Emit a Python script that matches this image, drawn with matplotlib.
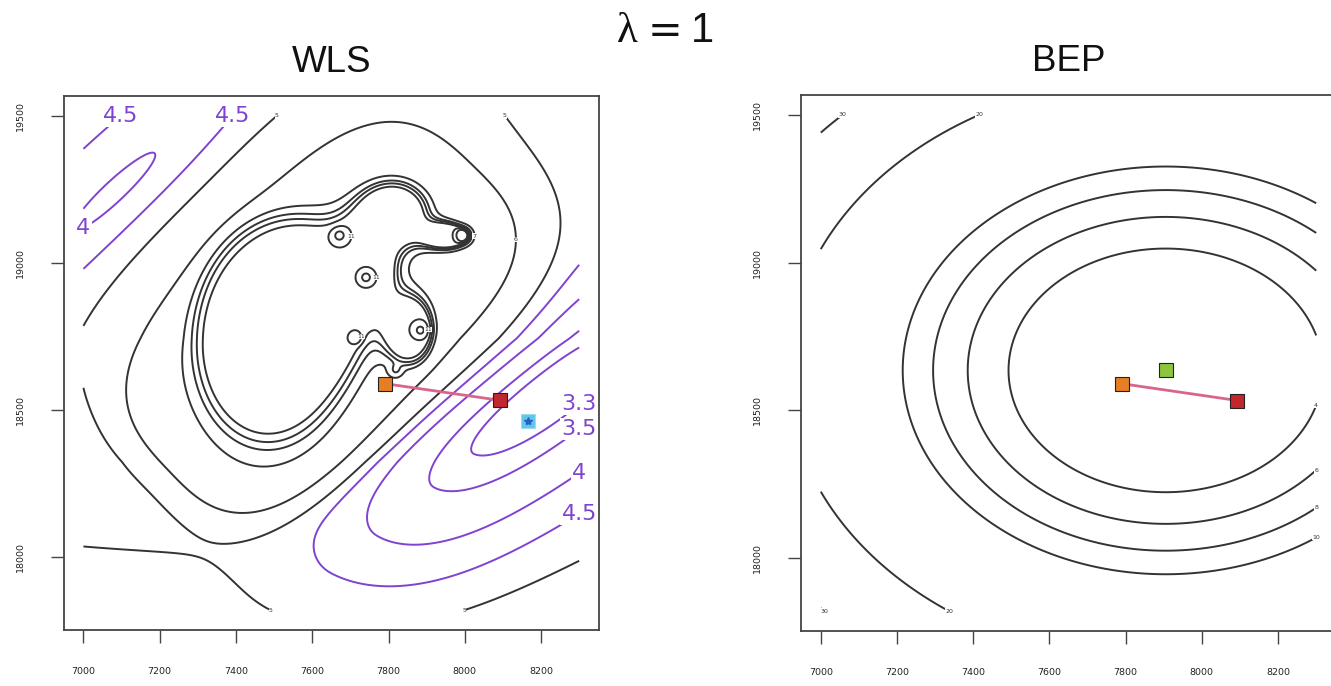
import numpy as np
import matplotlib
matplotlib.use("Agg")
import matplotlib.pyplot as plt

# ---------------- parameter grid and axes ----------------
x_lo, x_hi = 7000, 8300
y_lo, y_hi = 17820, 19500
x_ticks = [7000, 7200, 7400, 7600, 7800, 8000, 8200]
y_ticks = [18000, 18500, 19000, 19500]

# ---------------- estimates ----------------
start_xy = (7790, 18590)      # orange
end_xy = (8093, 18533)        # red
wls_min_xy = (8166, 18462)    # cyan, WLS optimum
bep_min_xy = (7905, 18635)    # green, BEP optimum

# ---------------- contour levels ----------------
wls_low_levels = [3.3, 3.5, 4, 4.5]
wls_high_levels = [5, 6, 7, 8, 9, 10, 11, 12]
bep_levels = [4, 6, 8, 10, 20, 30]

# ---------------- WLS surface description ----------------
wls_floor = 4.75
lift_gain, lift_start, lift_bend, lift_tilt = 3.19, 0.407, 0.18, 0.07   # rise toward the lower edge
ridge_center = (7650, 18840)                              # tilted rounded-box mound
ridge_angle, ridge_round = 45, 3.0
ridge_half_ne, ridge_half_sw = 0.41, 0.46
ridge_half_nw, ridge_half_se = 0.27, 0.25
ridge_height, ridge_steep, ridge_edge = 2.0, 24.6, 0.021
ridge_loose_nw = 0.25                                     # gentler flank toward the upper left
ridge_tight, ridge_tight_top, ridge_tight_span = 1.2, 0.55, 0.25
hollow_center = (7090, 19246)                             # upper-left hollow
hollow_angle, hollow_scale, hollow_depth = 43, (0.36, 0.07), 0.90
trough_origin = (8300, 18650)                             # lower-right trough
trough_angle = 220
trough_depth, trough_mid, trough_fade = 1.65, 0.58, 0.13
trough_start, trough_start_fade = -0.3, 0.1
trough_sigma_nw, trough_sigma_se = 0.10, 0.155
# walled plateau assembled from lobes (centres in data units, widths in grid fractions)
lobe_x = [7481, 7572, 7814, 7955, 7728, 7858]
lobe_y = [18669, 18907, 19169, 19091, 18975, 18771]
lobe_sx = [0.11, 0.11, 0.055, 0.035, 0.04, 0.035]
lobe_sy = [0.14, 0.11, 0.05, 0.02, 0.05, 0.05]
plateau_height, plateau_cut, plateau_soft = 4.1, 0.5, 0.07
# narrow peaks
peak_x = [7671, 7741, 7884, 7715, 7819, 7996]
peak_y = [19094, 18951, 18771, 18744, 18635, 19094]
peak_h = [1.6, 1.6, 1.6, 1.4, 1.4, 4.0]
peak_w = [0.012, 0.010, 0.012, 0.009, 0.010, 0.009]

# ---------------- BEP surface description ----------------
bep_scale = 690.0
bep_coef = [9.42, 0.578]
bep_pow = [1.7, 4.0]

# ---------------- colours ----------------
purple = "#8043cf"
ink = "#333333"
orange, red, cyan, green = "#e57e25", "#c1272d", "#62c6e8", "#8cc63f"
pink = "#d9668a"


def unit(x, y):
    return (x - x_lo) / (x_hi - x_lo), (y - y_lo) / (y_hi - y_lo)


def rotate(u, w, cu, cw, angle):
    t = np.deg2rad(angle)
    du, dw = u - cu, w - cw
    return du * np.cos(t) + dw * np.sin(t), -du * np.sin(t) + dw * np.cos(t)


n = 420
xs = np.linspace(x_lo, x_hi, n)
ys = np.linspace(y_lo, y_hi, n)
X, Y = np.meshgrid(xs, ys)
U, W = unit(X, Y)
step = 1.0 / (n - 1)

# ---- WLS ----
f = np.full_like(U, wls_floor)
g = np.clip(lift_start - W + lift_bend * (U - 0.5) ** 2 + lift_tilt * (U - 0.5), 0, None)
f += lift_gain * g ** 2

cu, cw = unit(*ridge_center)
a, b = rotate(U, W, cu, cw, ridge_angle)
ha = np.where(a > 0, ridge_half_ne, ridge_half_sw)
hb = np.where(b > 0, ridge_half_nw, ridge_half_se)
rho = (np.abs(a / ha) ** ridge_round + np.abs(b / hb) ** ridge_round) ** (1 / ridge_round)
gw, gu = np.gradient(rho, step, step)
dist = (rho - 1) / np.maximum(np.hypot(gu, gw), 1e-6)
dist *= 1 - ridge_loose_nw / (1 + np.exp(-b / 0.05))
dist *= 1 + ridge_tight * np.clip((ridge_tight_top - W) / ridge_tight_span, 0, 1)
f += ridge_height / (1 + np.exp(np.clip(ridge_steep * (dist - ridge_edge), -50, 50)))

cu, cw = unit(*hollow_center)
a, b = rotate(U, W, cu, cw, hollow_angle)
f -= hollow_depth / (1 + (a / hollow_scale[0]) ** 2 + (b / hollow_scale[1]) ** 2)

cu, cw = unit(*trough_origin)
a, b = rotate(U, W, cu, cw, trough_angle)
sig = np.where(b > 0, trough_sigma_se, trough_sigma_nw)
depth = trough_depth / (1 + np.exp((a - trough_mid) / trough_fade))
depth /= 1 + np.exp(-(a - trough_start) / trough_start_fade)
f -= depth * np.exp(-0.5 * (b / sig) ** 2)

S = np.zeros_like(U)
for lx, ly, sx, sy in zip(lobe_x, lobe_y, lobe_sx, lobe_sy):
    cu, cw = unit(lx, ly)
    S += np.exp(-0.5 * (((U - cu) / sx) ** 2 + ((W - cw) / sy) ** 2))
f += plateau_height / (1 + np.exp(-(S - plateau_cut) / plateau_soft))

for px, py, ph, pw in zip(peak_x, peak_y, peak_h, peak_w):
    cu, cw = unit(px, py)
    f += ph * np.exp(-0.5 * ((U - cu) ** 2 + (W - cw) ** 2) / pw ** 2)
wls = f

# ---- BEP ----
r = np.hypot(X - bep_min_xy[0], Y - bep_min_xy[1]) / bep_scale
bep = sum(c * r ** p for c, p in zip(bep_coef, bep_pow))


def end_labels(ax, cs, size, color, closed_pick="right", min_extent=0.0, min_gap=0.0):
    tol_x = (x_hi - x_lo) * 0.004
    tol_y = (y_hi - y_lo) * 0.004
    placed = []
    for lev, segs in zip(cs.levels, cs.allsegs):
        for seg in segs:
            if len(seg) < 3:
                continue
            su, sw = unit(seg[:, 0], seg[:, 1])
            if max(np.ptp(su), np.ptp(sw)) < min_extent:
                continue
            p0, p1 = seg[0], seg[-1]
            if np.hypot((p0[0] - p1[0]) / tol_x, (p0[1] - p1[1]) / tol_y) < 1:
                i = np.argmax(seg[:, 0]) if closed_pick == "right" else np.argmin(seg[:, 0])
                pt = seg[i]
            else:
                cands = [p for p in (p0, p1) if p[0] > x_lo + tol_x]
                if not cands:
                    cands = [p0, p1]
                pt = min(cands, key=lambda p: p[1])
            pu, pw_ = unit(pt[0], pt[1])
            if any(np.hypot(pu - qu, pw_ - qw) < min_gap for qu, qw in placed):
                continue
            placed.append((pu, pw_))
            ax.text(pt[0], pt[1], f"{lev:g}", fontsize=size, color=color,
                    ha="center", va="center", zorder=4,
                    bbox=dict(boxstyle="square,pad=0.05", fc="white", ec="none"))


W_PX, H_PX = 1331, 686
fig = plt.figure(figsize=(W_PX / 100, H_PX / 100), dpi=100)


def px_axes(left, top, right, bottom):
    return fig.add_axes([left / W_PX, 1 - bottom / H_PX, (right - left) / W_PX, (bottom - top) / H_PX])


axL = px_axes(63.6, 96, 599, 630)
axR = px_axes(801, 95, 1336, 631)

pad_x = (x_hi - x_lo) * 0.04
pad_y = (y_hi - y_lo) * 0.04
for ax, title in ((axL, "WLS"), (axR, "BEP")):
    ax.set_xlim(x_lo - pad_x, x_hi + pad_x)
    ax.set_ylim(y_lo - pad_y, y_hi + pad_y)
    ax.set_xticks(x_ticks)
    ax.set_yticks(y_ticks)
    ax.set_xticklabels([str(v) for v in x_ticks], fontsize=6.8, color="#222222")
    ax.set_yticklabels([str(v) for v in y_ticks], fontsize=6.8, color="#222222",
                       rotation=90, va="center")
    ax.tick_params(axis="x", length=9.5, width=1.0, color="#444444", pad=17)
    ax.tick_params(axis="y", length=9.5, width=1.0, color="#444444", pad=18.5)
    for s in ax.spines.values():
        s.set_linewidth(1.3)
        s.set_color("#444444")
    ax.text(0.5, 1 + 24 / 534, title, transform=ax.transAxes, ha="center",
            va="baseline", fontsize=26.5, family="Liberation Sans", color="#111111")

# WLS panel
cs_hi = axL.contour(X, Y, wls, levels=wls_high_levels, colors=ink, linewidths=1.4)
cs_lo = axL.contour(X, Y, wls, levels=wls_low_levels, colors=purple, linewidths=1.4)
end_labels(axL, cs_hi, 4.5, ink, "right", min_extent=0.025, min_gap=0.03)
end_labels(axL, cs_lo, 16, purple, "left")
axL.plot([start_xy[0], end_xy[0]], [start_xy[1], end_xy[1]], color=pink, lw=2, zorder=5)
axL.plot(*start_xy, "s", ms=10, mfc=orange, mec="#222222", mew=0.8, zorder=6)
axL.plot(*end_xy, "s", ms=10, mfc=red, mec="#222222", mew=0.8, zorder=6)
axL.plot(*wls_min_xy, "s", ms=10, mfc=cyan, mec="#9adcf0", mew=0.8, zorder=6)
axL.plot(*wls_min_xy, "*", ms=6, color="#2a5fc4", zorder=7)

# BEP panel
cs_b = axR.contour(X, Y, bep, levels=bep_levels, colors=ink, linewidths=1.4)
end_labels(axR, cs_b, 4.5, ink, "right")
axR.plot([start_xy[0], end_xy[0]], [start_xy[1], end_xy[1]], color=pink, lw=2, zorder=5)
axR.plot(*start_xy, "s", ms=10, mfc=orange, mec="#222222", mew=0.8, zorder=6)
axR.plot(*end_xy, "s", ms=10, mfc=red, mec="#222222", mew=0.8, zorder=6)
axR.plot(*bep_min_xy, "s", ms=10, mfc=green, mec="#222222", mew=0.8, zorder=6)


def fig_text(x, y, s, **kw):
    fig.text(x / W_PX, 1 - y / H_PX, s, **kw)


fig_text(627.5, 42, "\u03bb", ha="center", va="baseline", fontsize=31,
         family="Liberation Serif", color="#111111")
fig_text(665.5, 31, "=", ha="center", va="center", fontsize=30,
         family="DejaVu Sans", color="#111111")
fig_text(702.5, 42, "1", ha="center", va="baseline", fontsize=30,
         family="Liberation Sans", color="#111111")

fig.savefig("out.png", dpi=100)
